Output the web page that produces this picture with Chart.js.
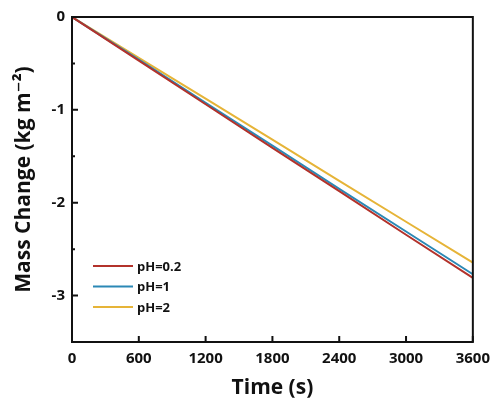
<!DOCTYPE html>
<html>
<head>
<meta charset="utf-8">
<script src="https://cdn.jsdelivr.net/npm/chart.js@4"></script>
<style>
  html, body { margin: 0; padding: 0; background: #fff; }
  #wrap { width: 498px; height: 405px; }
</style>
</head>
<body>
<div id="wrap"><canvas id="massChart" width="498" height="405"></canvas></div>
<script>
// time (s)
const timeVals = [0, 600, 1200, 1800, 2400, 3000, 3600];
// mass change (kg m-2)
const ph02 = [0, -0.47, -0.94, -1.41, -1.875, -2.345, -2.81];
const ph1 = [0, -0.46, -0.925, -1.385, -1.85, -2.31, -2.77];
const ph2 = [0, -0.44, -0.88, -1.32, -1.765, -2.205, -2.645];
const seriesNames = ["pH=0.2", "pH=1", "pH=2"];
const seriesColors = ["#b3322b", "#2b88b5", "#e6b438"];
const xTicks = [0, 600, 1200, 1800, 2400, 3000, 3600];
const yTicks = [-3, -2, -1, 0];
const yMinor = [-3.5, -2.5, -1.5, -0.5];

const FONT = "'Open Sans', 'DejaVu Sans', sans-serif";

function toPts(ys) {
  return timeVals.map((t, i) => ({ x: t, y: ys[i] }));
}

// frame, inward ticks and the legend box
const framePlugin = {
  id: "frame",
  afterDatasetsDraw(chart) {
    const c = chart.ctx;
    const a = chart.chartArea;
    const xs = chart.scales.x, ys = chart.scales.y;
    c.save();
    c.strokeStyle = "#111";
    c.lineWidth = 2;
    c.strokeRect(a.left, a.top, a.right - a.left, a.bottom - a.top);
    c.beginPath();
    xTicks.forEach(v => {
      const px = xs.getPixelForValue(v);
      c.moveTo(px, a.bottom); c.lineTo(px, a.bottom - 6);
    });
    yTicks.forEach(v => {
      const py = ys.getPixelForValue(v);
      c.moveTo(a.left, py); c.lineTo(a.left + 6, py);
    });
    yMinor.forEach(v => {
      const py = ys.getPixelForValue(v);
      c.moveTo(a.left, py); c.lineTo(a.left + 3, py);
    });
    c.stroke();

    // legend
    c.font = "bold 13px " + FONT;
    c.textBaseline = "middle";
    c.fillStyle = "#111";
    seriesNames.forEach((n, i) => {
      const y = a.top + 249 + i * 20.5;
      c.strokeStyle = seriesColors[i];
      c.lineWidth = 2;
      c.beginPath();
      c.moveTo(a.left + 21, y); c.lineTo(a.left + 61, y);
      c.stroke();
      c.fillText(n, a.left + 65, y + 1);
    });
    c.restore();
  }
};

new Chart(document.getElementById("massChart"), {
  type: "line",
  data: {
    datasets: [ph02, ph1, ph2].map((d, i) => ({
      label: seriesNames[i],
      data: toPts(d),
      borderColor: seriesColors[i],
      backgroundColor: seriesColors[i],
      borderWidth: 2,
      pointRadius: 0,
      tension: 0
    }))
  },
  options: {
    responsive: false,
    animation: false,
    layout: { padding: { top: 17, right: 22, left: 0, bottom: 0 } },
    plugins: { legend: { display: false }, tooltip: { enabled: false } },
    scales: {
      x: {
        type: "linear",
        min: 0, max: 3600,
        afterBuildTicks: s => { s.ticks = xTicks.map(v => ({ value: v })); },
        afterFit: s => { s.height = 63; },
        grid: { display: false, drawTicks: false },
        border: { display: false },
        ticks: { color: "#111", padding: 8, maxRotation: 0, callback: v => String(v), font: { family: FONT, size: 15, weight: "bold" } },
        title: { display: true, text: "Time (s)", color: "#111", padding: { top: 3 }, font: { family: FONT, size: 21, weight: "bold" } }
      },
      y: {
        type: "linear",
        min: -3.5, max: 0,
        afterBuildTicks: s => { s.ticks = yTicks.map(v => ({ value: v })); },
        afterFit: s => { s.width = 72; },
        grid: { display: false, drawTicks: false },
        border: { display: false },
        ticks: { color: "#111", padding: 7, callback: v => String(v), font: { family: FONT, size: 15, weight: "bold" } },
        title: { display: true, text: "Mass Change (kg m⁻²)", color: "#111", padding: { top: 11, bottom: 0 }, font: { family: FONT, size: 21, weight: "bold" } }
      }
    }
  },
  plugins: [framePlugin]
});
</script>
</body>
</html>
